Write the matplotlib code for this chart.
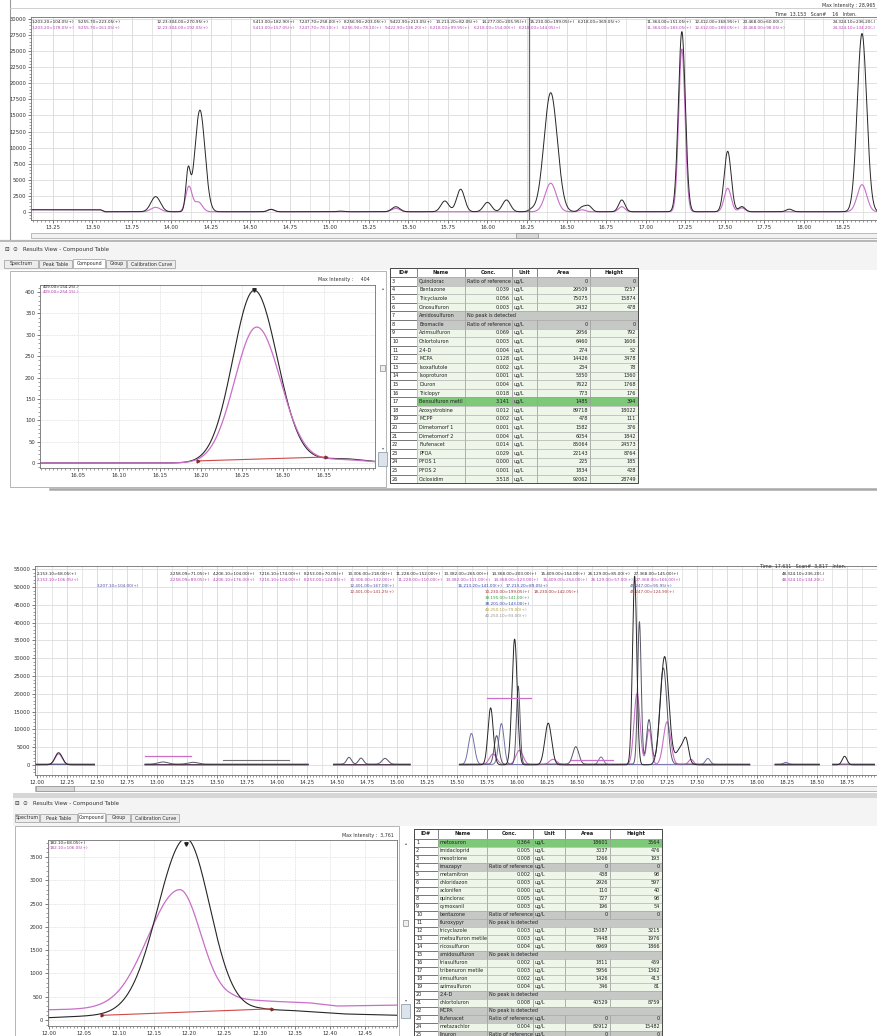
import numpy as np
import matplotlib
matplotlib.use("Agg")
import matplotlib.pyplot as plt
from matplotlib.patches import Rectangle
from matplotlib.ticker import MultipleLocator

W, H = 877, 1036
plt.rcParams['font.family'] = ['DejaVu Sans']

# ======================= DATA =======================
# --- upper screenshot: total MRM chromatogram ---
TOP_XTICKS = [13.25, 13.50, 13.75, 14.00, 14.25, 14.50, 14.75, 15.00, 15.25, 15.50, 15.75,
              16.00, 16.25, 16.50, 16.75, 17.00, 17.25, 17.50, 17.75, 18.00, 18.25]
TOP_YTICKS = [0, 2500, 5000, 7500, 10000, 12500, 15000, 17500, 20000, 22500, 25000, 27500, 30000]
TOP_BLACK_RT = [13.90, 14.105, 14.18, 14.63, 15.07, 15.42, 15.73, 15.83, 16.00, 16.12, 16.28,
                16.40, 16.60, 16.64, 16.85, 17.23, 17.52, 17.61, 17.91, 18.37]
TOP_BLACK_H = [2350, 6000, 15800, 370, 100, 780, 1670, 3500, 1460, 1830, 300,
               18500, 700, 900, 1830, 28000, 9400, 800, 400, 27700]
TOP_BLACK_W = [0.03, 0.014, 0.032, 0.02, 0.02, 0.025, 0.025, 0.025, 0.025, 0.025, 0.02,
               0.042, 0.02, 0.02, 0.02, 0.022, 0.022, 0.02, 0.02, 0.03]
TOP_PINK_RT = [13.90, 14.11, 14.17, 14.63, 15.42, 16.40, 16.60, 16.85, 17.23, 17.52, 17.61, 18.37]
TOP_PINK_H = [680, 3900, 1500, 370, 520, 4440, 300, 780, 25300, 3650, 600, 4200]
TOP_PINK_W = [0.03, 0.02, 0.025, 0.02, 0.025, 0.035, 0.02, 0.02, 0.02, 0.022, 0.02, 0.03]
TOP_BASE_RT = [13.10, 13.55, 13.58, 18.47]
TOP_BASE_VAL = [350, 350, 40, 40]
TOP_CURSOR = 16.26
TOP_MAX = "28,965"

# --- upper screenshot: compound peak (Bensulfuron methyl) ---
P1_XTICKS = [16.05, 16.10, 16.15, 16.20, 16.25, 16.30, 16.35]
P1_YTICKS = [0, 50, 100, 150, 200, 250, 300, 350, 400]
P1_BLACK = dict(rt=16.265, h=404, sl=0.026, sr=0.028)
P1_PINK = dict(rt=16.268, h=318, sl=0.027, sr=0.029)
P1_TAIL_RT, P1_TAIL_H, P1_TAIL_W = 16.37, 10, 0.03
P1_BASELINE_RT = [16.197, 16.352]
P1_BASELINE_VAL = [5, 14]
P1_MAX = "404"

# --- upper screenshot: compound table ---
T1_ID = list(range(3, 27))
T1_NAME = ["Quinclorac", "Bentazone", "Tricyclazole", "Cinosulfuron", "Amidosulfuron", "Bromacile",
           "Azimsulfuron", "Chlortoluron", "2,4-D", "MCPA", "Isoxaflutole", "Isoproturon", "Diuron",
           "Triclopyr", "Bensulfuron metil", "Azoxystrobine", "MCPP", "Dimetomorf 1", "Dimetomorf 2",
           "Flufenacet", "PFOA", "PFOS 1", "PFOS 2", "Cicloxidim"]
T1_CONC = ["Ratio of reference", "0.039", "0.056", "0.003", "No peak is detected", "Ratio of reference",
           "0.069", "0.003", "0.004", "0.128", "0.002", "0.001", "0.004", "0.018", "3.141", "0.012",
           "0.002", "0.001", "0.004", "0.014", "0.029", "0.000", "0.001", "3.518"]
T1_AREA = ["0", "29509", "75075", "2432", "", "0", "2956", "6460", "274", "14426", "234", "5350",
           "7622", "773", "1485", "89718", "478", "1582", "6054", "85064", "22143", "225", "1834", "92062"]
T1_HEIGHT = ["0", "7257", "15874", "478", "", "0", "792", "1606", "52", "3478", "78", "1360",
             "1768", "176", "394", "18022", "111", "376", "1842", "24573", "8764", "185", "428", "28749"]
T1_SELECTED = 17

# --- lower screenshot: total MRM chromatogram ---
BOT_XTICKS = [12.00, 12.25, 12.50, 12.75, 13.00, 13.25, 13.50, 13.75, 14.00, 14.25, 14.50, 14.75,
              15.00, 15.25, 15.50, 15.75, 16.00, 16.25, 16.50, 16.75, 17.00, 17.25, 17.50, 17.75,
              18.00, 18.25, 18.50, 18.75]
BOT_YTICKS = [0, 5000, 10000, 15000, 20000, 25000, 30000, 35000, 40000, 45000, 50000, 55000]
BOT_WIN_START = [11.98, 12.90, 14.47, 15.52, 18.15, 18.63]
BOT_WIN_END = [12.48, 14.26, 15.11, 17.94, 18.52, 18.98]
BOT_BLACK_RT = [12.18, 15.78, 15.98, 16.26, 16.98, 17.23, 17.37, 17.41, 18.73]
BOT_BLACK_H = [3400, 16000, 35300, 11700, 53000, 30400, 5000, 4500, 2400]
BOT_BLACK_W = [0.03, 0.022, 0.022, 0.028, 0.018, 0.035, 0.04, 0.02, 0.02]
BOT_GRAY_RT = [13.05, 13.30, 14.60, 14.70, 14.90, 15.83, 16.01, 16.49, 17.02, 17.10, 17.22]
BOT_GRAY_H = [600, 500, 1900, 1700, 1600, 8000, 21900, 4900, 40000, 12500, 27000]
BOT_GRAY_W = [0.04, 0.04, 0.02, 0.02, 0.025, 0.02, 0.015, 0.025, 0.015, 0.02, 0.03]
BOT_PINK_RT = [12.18, 15.80, 16.02, 16.30, 17.00, 17.10, 17.25, 17.45]
BOT_PINK_H = [3000, 3000, 4000, 1500, 20000, 10000, 12000, 1500]
BOT_PINK_W = [0.03, 0.03, 0.03, 0.03, 0.025, 0.02, 0.03, 0.02]
BOT_BLUE_RT = [15.62, 15.87, 16.70, 17.59, 18.24]
BOT_BLUE_H = [8700, 11500, 2100, 1700, 600]
BOT_BLUE_W = [0.025, 0.022, 0.02, 0.02, 0.02]
BOT_PLATEAU_START = [12.90, 15.75, 16.45]
BOT_PLATEAU_END = [13.28, 16.12, 16.80]
BOT_PLATEAU_LEVEL = [2400, 18800, 1500]
BOT_GRAYPLAT_START, BOT_GRAYPLAT_END, BOT_GRAYPLAT_LEVEL = [13.55], [14.10], [1500]

# --- lower screenshot: compound peak ---
P2_XTICKS = [12.00, 12.05, 12.10, 12.15, 12.20, 12.25, 12.30, 12.35, 12.40, 12.45]
P2_YTICKS = [0, 500, 1000, 1500, 2000, 2500, 3000, 3500]
P2_BLACK = dict(rt=12.195, h=3730, sl=0.040, sr=0.034)
P2_PINK = dict(rt=12.186, h=2480, sl=0.045, sr=0.030)
P2_BLACK_BASE_RT = [12.00, 12.08, 12.30, 12.35, 12.42, 12.50]
P2_BLACK_BASE_VAL = [50, 100, 230, 200, 130, 100]
P2_PINK_BASE_RT = [12.00, 12.10, 12.20, 12.26, 12.32, 12.37, 12.41, 12.50]
P2_PINK_BASE_VAL = [220, 240, 330, 450, 400, 370, 300, 320]
P2_BASELINE_RT = [12.075, 12.318]
P2_BASELINE_VAL = [100, 240]
P2_MAX = "3,761"

# --- lower screenshot: compound table ---
T2_ID = list(range(1, 26))
T2_NAME = ["metoxuron", "imidacloprid", "mesotrione", "imazapyr", "metamitron", "chloridazon",
           "aclonifen", "quinclorac", "cymoxanil", "bentazone", "fluroxypyr", "tricyclazole",
           "metsulfuron metile", "nicosulfuron", "amidosulfuron", "triasulfuron", "tribenuron metile",
           "rimsulfuron", "azimsulfuron", "2,4-D", "chlortoluron", "MCPA", "flufenacet",
           "metazachlor", "linuron"]
T2_CONC = ["0.364", "0.005", "0.008", "Ratio of reference", "0.002", "0.003", "0.000", "0.005",
           "0.003", "Ratio of reference", "No peak is detected", "0.003", "0.003", "0.004",
           "No peak is detected", "0.002", "0.003", "0.002", "0.004", "No peak is detected",
           "0.008", "No peak is detected", "Ratio of reference", "0.004", "Ratio of reference"]
T2_AREA = ["18601", "3037", "1266", "0", "438", "2926", "110", "727", "196", "0", "", "15087",
           "7448", "6969", "", "1811", "5956", "1426", "346", "", "40529", "", "0", "82912", "0"]
T2_HEIGHT = ["3564", "476", "193", "0", "98", "597", "40", "98", "54", "0", "", "3215", "1976",
             "1866", "", "459", "1362", "413", "81", "", "8759", "", "0", "15482", "0"]
T2_SELECTED = 1

TABS = ["Spectrum", "Peak Table", "Compound", "Group", "Calibration Curve"]
TABLE_HEADER = ["ID#", "Name", "Conc.", "Unit", "Area", "Height"]
UNIT = "ug/L"

# MRM transition labels of the chromatogram headers (runs of labels)
TOP_RUNS_BLACK = [(32, ["1:203.20>104.05(+)", "9.255.70>223.05(+)"]),
                  (157, ["12.23:304.00>270.95(+)"]),
                  (253, ["5.413.00>182.90(+)", "7.247.70>258.00(+)", "8.256.90>203.05(+)",
                         "9.422.90>213.05(+)", "13.213.20>82.05(+)", "14.277.00>205.95(+)",
                         "15.230.00>199.05(+)", "6.218.00>369.05(+)"]),
                  (647, ["11.364.00>151.05(+)", "12.412.00>368.95(+)", "23.468.00>60.00(-)"]),
                  (833, ["24.324.10>236.20(-)"])]
TOP_RUNS_PINK = [(32, ["1:203.20>178.05(+)", "9.255.70>161.05(+)"]),
                 (157, ["12.23:304.00>192.05(+)"]),
                 (253, ["5.413.00>157.05(+)", "7.247.70>78.10(+)", "8.256.90>78.10(+)",
                        "9.422.90>136.20(+)", "6.218.00>99.95(+)", "6.218.00>154.00(+)",
                        "6.218.00>144.05(+)"]),
                 (647, ["11.364.00>183.05(+)", "12.412.00>189.05(+)", "23.468.00>98.05(+)"]),
                 (833, ["24.324.10>134.20(-)"])]
BOT_RUNS = [(37, 574, "#222222", ["2.153.10>68.05(+)"]),
            (37, 580, "#b040b0", ["2.153.10>106.05(+)"]),
            (170, 574, "#222222", ["2.258.09>71.05(+)", "4.206.10>104.00(+)", "7.216.10>174.00(+)",
                                   "8.253.00>70.05(+)", "10.306.00>218.00(+)", "11.228.00>152.00(+)",
                                   "13.382.00>265.00(+)", "14.368.00>203.00(+)", "15.409.00>154.00(+)",
                                   "26.129.00>85.00(+)", "27.368.00>145.00(+)"]),
            (170, 580, "#b040b0", ["2.258.09>89.05(+)", "4.206.10>176.00(+)", "7.216.10>104.00(+)",
                                   "8.253.00>124.05(+)", "10.306.00>132.00(+)", "11.228.00>110.00(+)",
                                   "13.382.00>111.00(+)", "14.368.00>123.00(+)", "15.409.00>254.00(+)",
                                   "26.129.00>57.00(+)", "27.368.00>166.00(+)"]),
            (782, 574, "#222222", ["48.324.10>236.20(-)"]),
            (782, 580, "#b040b0", ["48.324.10>134.20(-)"]),
            (97, 586, "#5050a0", ["3.207.10>104.00(+)"]),
            (350, 586, "#5050a0", ["12.401.00>167.00(+)"]),
            (350, 592, "#a04040", ["12.401.00>141.25(+)"]),
            (458, 586, "#3040b0", ["16.213.20>141.00(+)", "17.213.20>89.05(+)"]),
            (485, 592, "#a03030", ["10.230.00>199.05(+)", "18.230.00>142.05(+)"]),
            (485, 598, "#30a040", ["38.195.00>141.00(+)"]),
            (485, 604, "#3040a0", ["38.201.00>143.00(+)"]),
            (485, 610, "#b0a040", ["40.250.10>79.00(+)"]),
            (485, 616, "#909090", ["40.250.10>93.00(+)"]),
            (630, 586, "#5050a0", ["45.247.00>95.95(+)"]),
            (630, 592, "#a04040", ["45.247.00>124.90(+)"])]

# ======================= HELPERS =======================
BLACK = "#262626"
PINK = "#c96ec9"
GRID = "#dcdcdc"
TXT = "#303030"


def peaks(x, rts, hs, ws):
    y = np.zeros_like(x)
    for r, h, w in zip(rts, hs, ws):
        y += h * np.exp(-0.5 * ((x - r) / w) ** 2)
    return y


def apeak(x, p):
    s = np.where(x < p["rt"], p["sl"], p["sr"])
    return p["h"] * np.exp(-0.5 * ((x - p["rt"]) / s) ** 2)


fig = plt.figure(figsize=(W / 100, H / 100), dpi=100)
fig.patch.set_facecolor("white")
renderer = fig.canvas.get_renderer()


def canvas(z):
    a = fig.add_axes([0, 0, 1, 1], zorder=z)
    a.set_xlim(0, W)
    a.set_ylim(H, 0)
    a.axis("off")
    a.patch.set_alpha(0)
    return a


bg = canvas(0)
fg = canvas(20)


def place_run(ax, x, y, texts, color, fs=3.0, gap=3, xmax=876):
    for t in texts:
        tt = ax.text(x, y, t, fontsize=fs, color=color, va="center", ha="left")
        w = tt.get_window_extent(renderer=renderer).width
        if x + w > xmax:
            tt.set_x(xmax - w)
        x += w + gap


def px_axes(x0, y0, x1, y1, z=5):
    return fig.add_axes([x0 / W, 1 - y1 / H, (x1 - x0) / W, (y1 - y0) / H], zorder=z)


def style_axes(ax, xt, yt, xminor=None, yminor=None, gridx=None):
    ax.set_xticks(xt)
    ax.set_xticklabels([f"{v:.2f}" for v in xt])
    ax.set_yticks(yt)
    ax.set_yticklabels([str(v) for v in yt])
    ax.tick_params(axis="both", labelsize=3.8, length=2, width=0.5, pad=1.5, colors="#444444",
                   labelcolor=TXT)
    if xminor:
        ax.xaxis.set_minor_locator(MultipleLocator(xminor))
    if yminor:
        ax.yaxis.set_minor_locator(MultipleLocator(yminor))
    ax.tick_params(which="minor", length=1.2, width=0.4, colors="#555555")
    ax.grid(True, which="major", color=GRID, lw=0.6)
    if gridx:
        for v in np.arange(xt[0] - gridx, xt[-1] + 2 * gridx, gridx):
            ax.axvline(v, color=GRID, lw=0.5, zorder=0)
    ax.set_axisbelow(True)
    for s in ax.spines.values():
        s.set_color("#707070")
        s.set_linewidth(0.6)


def draw_table(ax, cols, y0, hh, rh, ids, names, concs, areas, heights, selected):
    x0, x1 = cols[0], cols[-1]
    for j, t in enumerate(TABLE_HEADER):
        ax.add_patch(Rectangle((cols[j], y0), cols[j + 1] - cols[j], hh, fc="white", ec="#6a6a6a", lw=0.5))
        ax.text((cols[j] + cols[j + 1]) / 2, y0 + hh / 2, t, fontsize=3.6, fontweight="bold",
                color="#202020", ha="center", va="center")
    y = y0 + hh
    for i in range(len(ids)):
        c = concs[i]
        nopeak = c.startswith("No peak")
        gray = c.startswith("Ratio") or nopeak
        sel = ids[i] == selected
        fc = "#7ec87a" if sel else ("#c6c8c6" if gray else "#eef6ea")
        ax.add_patch(Rectangle((cols[0], y), cols[1] - cols[0], rh, fc="white", ec="#5a5a5a", lw=0.5))
        ax.add_patch(Rectangle((cols[1], y), x1 - cols[1], rh, fc=fc, ec="none"))
        for j in range(1, 6):
            if nopeak and j >= 3:
                continue
            if nopeak and j == 2:
                ax.add_patch(Rectangle((cols[2], y), x1 - cols[2], rh, fc="none", ec="#a0a0a0", lw=0.4))
                continue
            ax.add_patch(Rectangle((cols[j], y), cols[j + 1] - cols[j], rh, fc="none", ec="#a0a0a0", lw=0.4))
        yc = y + rh / 2
        ax.text(cols[0] + 2, yc, str(ids[i]), fontsize=3.5, color="#202020", va="center")
        ax.text(cols[1] + 2, yc, names[i], fontsize=3.5, color="#202020", va="center")
        if gray:
            ax.text(cols[2] + 2, yc, c, fontsize=3.5, color="#202020", va="center")
        else:
            ax.text(cols[3] - 2, yc, c, fontsize=3.5, color="#202020", va="center", ha="right")
        if not nopeak:
            ax.text(cols[3] + 2, yc, UNIT, fontsize=3.5, color="#202020", va="center")
            ax.text(cols[5] - 2, yc, areas[i], fontsize=3.5, color="#202020", va="center", ha="right")
            ax.text(cols[6] - 2, yc, heights[i], fontsize=3.5, color="#202020", va="center", ha="right")
        y += rh
    ax.add_patch(Rectangle((x0, y0), x1 - x0, y - y0, fc="none", ec="#4a4a4a", lw=0.7))


def results_header(y_title, y_tab, tab_x, x_title):
    bg.text(x_title, y_title, "\u229f  \u2299   Results View - Compound Table", fontsize=4.0, color=TXT,
            va="center")
    for i, t in enumerate(TABS):
        sel = (t == "Compound")
        bg.add_patch(Rectangle((tab_x[i], y_tab - 5 if sel else y_tab - 4), tab_x[i + 1] - tab_x[i] - 1,
                               9 if sel else 8, fc="white" if sel else "#ececec", ec="#9a9a9a", lw=0.5))
        bg.text((tab_x[i] + tab_x[i + 1]) / 2, y_tab, t, fontsize=3.4, color=TXT, ha="center", va="center")


# ======================= UPPER SCREENSHOT =======================
bg.plot([10, 10], [0, 241], color="#9a9a9a", lw=0.8)
bg.plot([10, 877], [8, 8], color="#c8c8c8", lw=0.6)

ax1 = px_axes(31, 17, 877, 220)
x = np.linspace(13.10, 18.47, 4000)
base = np.interp(x, TOP_BASE_RT, TOP_BASE_VAL)
ax1.plot(x, base + peaks(x, TOP_PINK_RT, TOP_PINK_H, TOP_PINK_W), color=PINK, lw=0.8)
ax1.plot(x, base + peaks(x, TOP_BLACK_RT, TOP_BLACK_H, TOP_BLACK_W), color=BLACK, lw=0.7)
ax1.axvline(TOP_CURSOR, color="#666666", lw=0.9)
ax1.set_xlim(13.111, 18.465)
ax1.set_ylim(-1244, 30311)
style_axes(ax1, TOP_XTICKS, TOP_YTICKS, xminor=0.025, yminor=500, gridx=0.125)
ax1.spines["right"].set_visible(False)

for xx, texts in TOP_RUNS_BLACK:
    place_run(fg, xx, 22, texts, "#222222")
for xx, texts in TOP_RUNS_PINK:
    place_run(fg, xx, 28, texts, "#b040b0")
fg.text(875, 5, "Max Intensity : " + TOP_MAX, fontsize=3.4, color=TXT, va="center", ha="right")
fg.text(775, 14, "Time  13.153   Scan#    16   Inten.", fontsize=3.4, color=TXT, va="center", ha="left")

bg.add_patch(Rectangle((31, 233), 846, 5, fc="#f2f2f2", ec="#a0a0a0", lw=0.5))
bg.add_patch(Rectangle((516, 233), 22, 5, fc="#d8d8d8", ec="#909090", lw=0.5))
bg.plot([0, 877], [241, 241], color="#b8b8b8", lw=1.6)

bg.add_patch(Rectangle((0, 243), 877, 27, fc="#f4f4f4", ec="none"))
results_header(250, 264, [4, 39, 73, 106, 127, 176], 5)

bg.add_patch(Rectangle((10, 271), 376, 216, fc="white", ec="#a8a8a8", lw=0.6))
ax2 = px_axes(40, 285, 375, 468)
xp = np.linspace(16.004, 16.412, 800)
tail = P1_TAIL_H * np.exp(-0.5 * ((xp - P1_TAIL_RT) / P1_TAIL_W) ** 2)
ax2.plot(xp, apeak(xp, P1_BLACK) + tail, color=BLACK, lw=0.8)
ax2.plot(xp, apeak(xp, P1_PINK) + tail * 0.8, color=PINK, lw=0.9)
ax2.plot(P1_BASELINE_RT, P1_BASELINE_VAL, color="#d04848", lw=0.8)
ax2.plot(P1_BASELINE_RT, P1_BASELINE_VAL, ls="none", marker=">", ms=2, color="#803030")
ax2.plot([P1_BLACK["rt"]], [P1_BLACK["h"]], ls="none", marker="v", ms=2.5, color="#222222")
ax2.set_xlim(16.004, 16.412)
ax2.set_ylim(-11.7, 416.4)
style_axes(ax2, P1_XTICKS, P1_YTICKS, xminor=0.005, yminor=10)
for gl in ax2.get_xgridlines() + ax2.get_ygridlines():
    gl.set_linestyle((0, (1, 1)))
fg.text(43, 287, "409.00>154.25(-)", fontsize=3.0, color="#222222", va="center")
fg.text(43, 292, "409.00>254.15(-)", fontsize=3.0, color="#b040b0", va="center")
fg.text(370, 280, "Max Intensity :     " + P1_MAX, fontsize=3.4, color=TXT, ha="right", va="center")
bg.text(383, 288, "\u25b4", fontsize=3, color="#666", ha="center", va="center")
bg.add_patch(Rectangle((380, 365), 5, 6, fc="#eeeeee", ec="#888888", lw=0.5))
bg.text(383, 448, "\u25be", fontsize=3, color="#666", ha="center", va="center")
bg.add_patch(Rectangle((378, 452), 9, 14, fc="#dde3ea", ec="#8090a0", lw=0.5))

tabax = canvas(8)
draw_table(tabax, [390, 417, 465, 512, 537, 590, 638], 268, 9, 8.6, T1_ID, T1_NAME, T1_CONC,
           T1_AREA, T1_HEIGHT, T1_SELECTED)
bg.plot([50, 877], [489, 489], color="#a8a8a8", lw=1.8)

# ======================= LOWER SCREENSHOT =======================
ax3 = px_axes(35, 566, 877, 775)
xb = np.linspace(11.983, 19.0, 6000)
win = np.zeros_like(xb, dtype=bool)
for s, e in zip(BOT_WIN_START, BOT_WIN_END):
    win |= (xb >= s) & (xb <= e)


def masked(y):
    return np.where(win, y, np.nan)


ax3.plot(xb, masked(peaks(xb, BOT_BLUE_RT, BOT_BLUE_H, BOT_BLUE_W) + 150), color="#7070a8", lw=0.7)
ax3.plot(xb, masked(peaks(xb, BOT_PINK_RT, BOT_PINK_H, BOT_PINK_W) + 100), color=PINK, lw=0.8)
ax3.plot(xb, masked(peaks(xb, BOT_GRAY_RT, BOT_GRAY_H, BOT_GRAY_W) + 250), color="#555566", lw=0.7)
ax3.plot(xb, masked(peaks(xb, BOT_BLACK_RT, BOT_BLACK_H, BOT_BLACK_W) + 50), color=BLACK, lw=0.7)
for s, e, lv in zip(BOT_PLATEAU_START, BOT_PLATEAU_END, BOT_PLATEAU_LEVEL):
    ax3.plot([s, e], [lv, lv], color=PINK, lw=0.9)
for s, e, lv in zip(BOT_GRAYPLAT_START, BOT_GRAYPLAT_END, BOT_GRAYPLAT_LEVEL):
    ax3.plot([s, e], [lv, lv], color="#707070", lw=0.8)
ax3.set_xlim(11.983, 19.0)
ax3.set_ylim(-2809, 55900)
style_axes(ax3, BOT_XTICKS, BOT_YTICKS, xminor=0.025, yminor=1000, gridx=0.125)
ax3.spines["right"].set_visible(False)
for xx, yy, col, texts in BOT_RUNS:
    place_run(fg, xx, yy, texts, col, xmax=780 if xx < 700 else 876)
fg.text(760, 567, "Time  17.631   Scan#  3.817   Inten.", fontsize=3.4, color=TXT, va="center")

bg.add_patch(Rectangle((35, 786), 842, 5, fc="#f2f2f2", ec="#a0a0a0", lw=0.5))
bg.add_patch(Rectangle((36, 786), 38, 5, fc="#d8d8d8", ec="#909090", lw=0.5))
bg.add_patch(Rectangle((13, 793), 864, 5, fc="#d6d6d6", ec="none"))

bg.add_patch(Rectangle((13, 798), 864, 28, fc="#f4f4f4", ec="none"))
results_header(803, 818, [15, 40, 78, 106, 131, 180], 15)

bg.add_patch(Rectangle((15, 826), 384, 215, fc="white", ec="#a8a8a8", lw=0.6))
ax4 = px_axes(48, 840, 397, 1026)
xq = np.linspace(11.9986, 12.496, 800)
ax4.plot(xq, apeak(xq, P2_PINK) + np.interp(xq, P2_PINK_BASE_RT, P2_PINK_BASE_VAL), color=PINK, lw=0.9)
ax4.plot(xq, apeak(xq, P2_BLACK) + np.interp(xq, P2_BLACK_BASE_RT, P2_BLACK_BASE_VAL), color=BLACK, lw=0.8)
ax4.plot(P2_BASELINE_RT, P2_BASELINE_VAL, color="#d04848", lw=0.8)
ax4.plot(P2_BASELINE_RT, P2_BASELINE_VAL, ls="none", marker=">", ms=2, color="#803030")
ax4.plot([P2_BLACK["rt"]], [P2_BLACK["h"] + 50], ls="none", marker="v", ms=2.5, color="#222222")
ax4.set_xlim(11.9986, 12.496)
ax4.set_ylim(-129, 3863)
style_axes(ax4, P2_XTICKS, P2_YTICKS, xminor=0.005, yminor=100)
for gl in ax4.get_xgridlines() + ax4.get_ygridlines():
    gl.set_linestyle((0, (1, 1)))
fg.text(50, 843, "182.10>68.05(+)", fontsize=3.0, color="#222222", va="center")
fg.text(50, 848, "182.10>106.05(+)", fontsize=3.0, color="#b040b0", va="center")
fg.text(394, 835, "Max Intensity :  " + P2_MAX, fontsize=3.4, color=TXT, ha="right", va="center")
bg.text(406, 843, "\u25b4", fontsize=3, color="#666", ha="center", va="center")
bg.add_patch(Rectangle((403, 920), 5, 6, fc="#eeeeee", ec="#888888", lw=0.5))
bg.text(406, 1000, "\u25be", fontsize=3, color="#666", ha="center", va="center")
bg.add_patch(Rectangle((401, 1004), 9, 14, fc="#dde3ea", ec="#8090a0", lw=0.5))

tabax2 = canvas(8)
draw_table(tabax2, [414, 438, 487, 533, 565, 610, 662], 829, 9.5, 8.0, T2_ID, T2_NAME, T2_CONC,
           T2_AREA, T2_HEIGHT, T2_SELECTED)

fig.savefig("out.png", dpi=100, facecolor="white")
